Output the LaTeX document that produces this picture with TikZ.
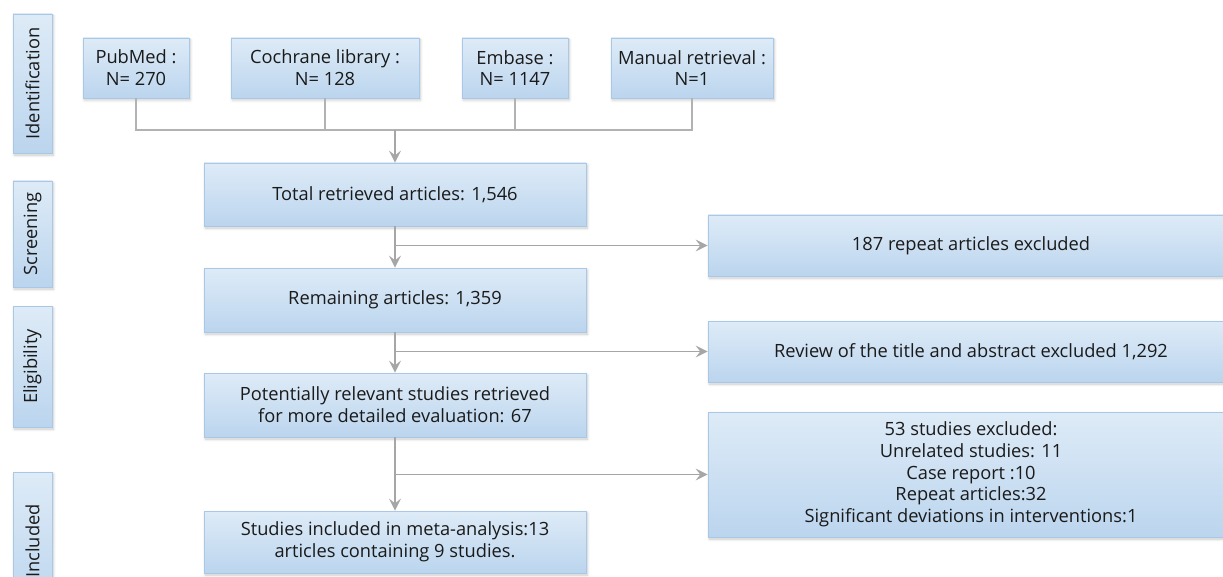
\documentclass[tikz,border=0pt]{standalone}
\usepackage{fontspec}
\setmainfont{Open Sans}
\usepackage{tikz}
\usetikzlibrary{arrows.meta}
\usetikzlibrary{shadows.blur}

\definecolor{boxtop}{HTML}{DEEBF7}
\definecolor{boxbottom}{HTML}{BBD5EE}
\definecolor{boxline}{HTML}{A9C8E8}
\definecolor{flowgray}{HTML}{A6A6A6}
\definecolor{joingray}{HTML}{B2B2B2}
\definecolor{textgray}{HTML}{1A1A1A}

\begin{document}
\begin{tikzpicture}[x=0.75pt,y=0.75pt,yscale=-1,xscale=1,
  blue box/.style={draw=boxline, line width=0.6pt, top color=boxtop, bottom color=boxbottom,
    blur shadow={shadow xshift=1pt, shadow yshift=-1.5pt, shadow blur steps=6, shadow opacity=22},
    inner sep=2pt, align=center, text=textgray, font=\fontsize{13.7}{16.3}\selectfont},
  stage box/.style={blue box, rotate=90, minimum height=29.25pt},
  join line/.style={draw=joingray, line width=0.8pt},
  flow arrow/.style={draw=flowgray, line width=1.1pt, -{Stealth[length=9pt,width=9pt,inset=3.5pt]}}]
\useasboundingbox (0,0) rectangle (1223,577);

%Stage labels
\node [stage box, minimum width=104.25pt] (stIdent) at (32.5,83.5) {Identification};
\node [stage box, minimum width=79.5pt] (stScreen) at (32.5,234) {Screening};
\node [stage box, minimum width=90.75pt] (stElig) at (32.5,366.5) {Eligibility};
\node [stage box, minimum width=103.5pt] (stIncl) at (32.5,541) {Included};

%Sources
\node [blue box, minimum width=79.5pt, minimum height=45pt] (pubmed) at (136,68) {PubMed :\\N= 270};
\node [blue box, minimum width=141pt, minimum height=45pt] (cochrane) at (325,68) {Cochrane library :\\N= 128};
\node [blue box, minimum width=79.5pt, minimum height=45pt] (embase) at (515,68) {Embase :\\N= 1147};
\node [blue box, minimum width=121.5pt, minimum height=45pt] (manual) at (692,68) {Manual retrieval :\\N=1};

%Main flow
\node [blue box, minimum width=286.5pt, minimum height=47.25pt] (total) at (395,194.5) {Total retrieved articles: 1,546};
\node [blue box, minimum width=286.5pt, minimum height=48pt] (remain) at (395,300) {Remaining articles: 1,359};
\node [blue box, minimum width=286.5pt, minimum height=48pt] (relevant) at (395,405) {Potentially relevant studies retrieved\\for more detailed evaluation: 67};
\node [blue box, minimum width=286.5pt, minimum height=46.5pt] (included) at (395,542) {Studies included in meta-analysis:13\\articles containing 9 studies.};

%Exclusions
\node [blue box, minimum width=394.5pt, minimum height=45.75pt] (repeat) at (971,245.5) {187 repeat articles excluded};
\node [blue box, minimum width=394.5pt, minimum height=45.75pt] (review) at (971,351.5) {Review of the title and abstract excluded 1,292};
\node [blue box, minimum width=394.5pt, minimum height=93.75pt] (excluded) at (971,474.5) {53 studies excluded:\\Unrelated studies: 11\\Case report :10\\Repeat articles:32\\Significant deviations in interventions:1};

% Join of the sources
\coordinate (joinL) at (136,130);
\draw [join line] (pubmed.south) |- (manual.south |- joinL) -- (manual.south);
\draw [join line] (cochrane.south) -- (cochrane.south |- joinL);
\draw [join line] (embase.south) -- (embase.south |- joinL);
\draw [flow arrow] (total.north |- joinL) -- (total.north);

% Flow down and exclusions
\draw [flow arrow] (total.south) -- (remain.north);
\draw [flow arrow] (total.south |- repeat.west) -- (repeat.west);
\draw [flow arrow] (remain.south) -- (relevant.north);
\draw [flow arrow] (remain.south |- review.west) -- (review.west);
\draw [flow arrow] (relevant.south) -- (included.north);
\draw [flow arrow] (relevant.south |- excluded.west) -- (excluded.west);

\end{tikzpicture}
\end{document}
